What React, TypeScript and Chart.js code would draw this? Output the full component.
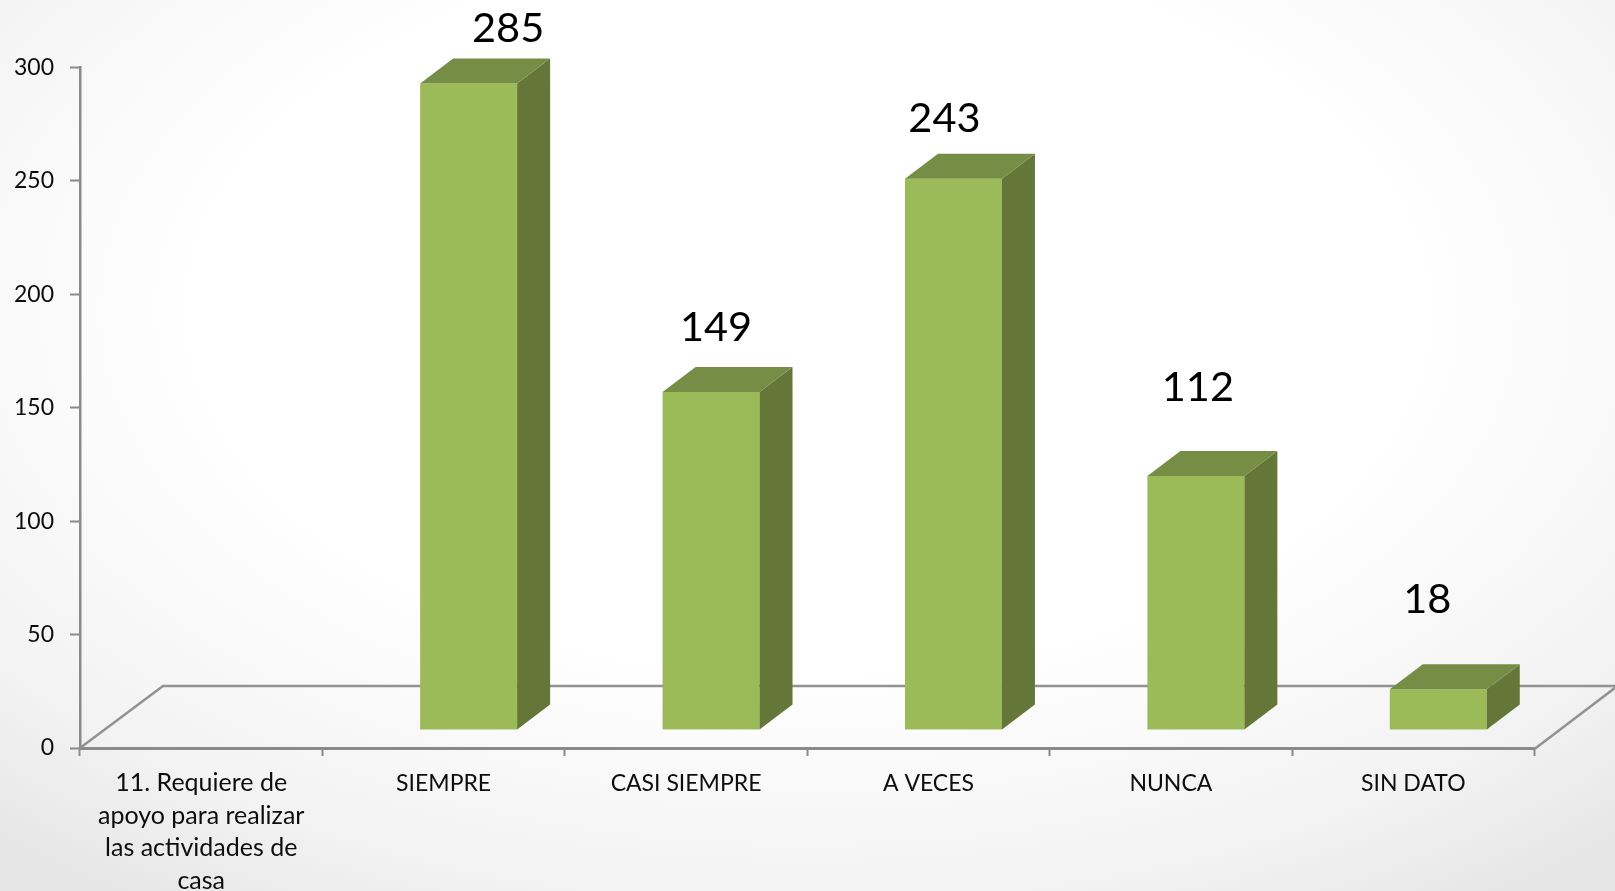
import React, { useEffect, useRef } from "react";
import { Chart, registerables } from "chart.js";

Chart.register(...registerables);

const categories: (string | string[])[] = [
  ["11. Requiere de", "apoyo para realizar", "las actividades de", "casa"],
  "SIEMPRE",
  "CASI SIEMPRE",
  "A VECES",
  "NUNCA",
  "SIN DATO",
];
const values: (number | null)[] = [null, 285, 149, 243, 112, 18];

const yMin = 0;
const yMax = 300;
const yStep = 50;

// hand-placed label offsets from the top centre of each bar's front face
const labelDx = [0, 39.5, 5, -9, 2, -11];
const labelDy = [0, -55, -64.5, -60, -88, -90];

const FONT = "Lato, Carlito, Calibri, sans-serif";
const AXIS = "#8a8a8a";
const FRONT = "#9bbb59";
const SIDE = "#647738";
const TOP = "#758d45";

const shiftX = 25;
const shiftY = -18;
const barDx = 33;
const barDy = -25;
const floorDx = 83;
const floorDy = -62;

const bars3d = {
  id: "bars3d",
  beforeDatasetsDraw(chart: any) {
    const { ctx, chartArea, width } = chart;
    const l = chartArea.left;
    const r = chartArea.right;
    const b = chartArea.bottom;
    ctx.save();
    ctx.strokeStyle = "#929292";
    ctx.lineWidth = 2.5;
    ctx.beginPath();
    ctx.moveTo(l, b);
    ctx.lineTo(l + floorDx, b + floorDy);
    ctx.lineTo(Math.max(r + floorDx, width), b + floorDy);
    ctx.lineTo(r, b + 1);
    ctx.stroke();
    ctx.restore();
    ctx.save();
    ctx.translate(shiftX, shiftY);
  },
  afterDatasetsDraw(chart: any) {
    const { ctx } = chart;
    ctx.restore();
    const els = chart.getDatasetMeta(0).data;
    els.forEach((el: any, i: number) => {
      const v = values[i];
      if (v === null) return;
      const p = el.getProps(["x", "y", "base", "width"], true);
      const x0 = p.x - p.width / 2 + shiftX;
      const x1 = p.x + p.width / 2 + shiftX;
      const top = p.y + shiftY;
      const bot = p.base + shiftY;
      ctx.fillStyle = SIDE;
      ctx.beginPath();
      ctx.moveTo(x1, top);
      ctx.lineTo(x1 + barDx, top + barDy);
      ctx.lineTo(x1 + barDx, bot + barDy);
      ctx.lineTo(x1, bot);
      ctx.closePath();
      ctx.fill();
      ctx.fillStyle = TOP;
      ctx.beginPath();
      ctx.moveTo(x0, top);
      ctx.lineTo(x0 + barDx, top + barDy);
      ctx.lineTo(x1 + barDx, top + barDy);
      ctx.lineTo(x1, top);
      ctx.closePath();
      ctx.fill();
      ctx.fillStyle = "#000000";
      ctx.font = `41.5px ${FONT}`;
      ctx.textAlign = "center";
      ctx.textBaseline = "middle";
      ctx.fillText(String(v), (x0 + x1) / 2 + labelDx[i], top + labelDy[i]);
    });
  },
};

export default function App() {
  const ref = useRef<HTMLCanvasElement>(null);
  useEffect(() => {
    const chart = new Chart(ref.current as HTMLCanvasElement, {
      type: "bar",
      data: {
        labels: categories as any,
        datasets: [
          {
            data: values,
            backgroundColor: FRONT,
            borderWidth: 0,
            barPercentage: 0.4,
            categoryPercentage: 1,
            clip: false as any,
          },
        ],
      },
      options: {
        responsive: false,
        animation: false,
        layout: { padding: { top: 67.5, right: 80.5, left: 0, bottom: 0 } },
        plugins: { legend: { display: false }, title: { display: false }, tooltip: { enabled: false } },
        scales: {
          x: {
            offset: true,
            afterFit: (s: any) => {
              s.height = 143;
            },
            border: { color: AXIS, width: 3 },
            grid: { drawOnChartArea: false, offset: true, color: AXIS, tickLength: 8, tickWidth: 2 },
            ticks: {
              autoSkip: false,
              maxRotation: 0,
              minRotation: 0,
              padding: 11,
              color: "#0d0d0d",
              font: (c: any) =>
                c.index === 0
                  ? { family: FONT, size: 25, lineHeight: 1.3 }
                  : { family: FONT, size: 23, lineHeight: 1.41 },
            },
          },
          y: {
            min: yMin,
            max: yMax,
            afterFit: (s: any) => {
              s.width = 80;
            },
            border: { color: AXIS, width: 2.5 },
            grid: { drawOnChartArea: false, color: AXIS, tickLength: 10, tickWidth: 2 },
            ticks: {
              stepSize: yStep,
              padding: 16,
              color: "#0d0d0d",
              font: { family: FONT, size: 23 },
            },
          },
        },
      },
      plugins: [bars3d],
    });
    return () => chart.destroy();
  }, []);
  return (
    <div
      style={{
        position: "absolute",
        left: 0,
        top: 0,
        width: 1615,
        height: 891,
        overflow: "hidden",
        background: "radial-gradient(ellipse 75% 80% at 50% 35%, #ffffff 50%, #f3f3f3 82%, #e6e6e6 100%)",
      }}
    >
      <canvas ref={ref} width={1615} height={891} style={{ display: "block" }} />
    </div>
  );
}
